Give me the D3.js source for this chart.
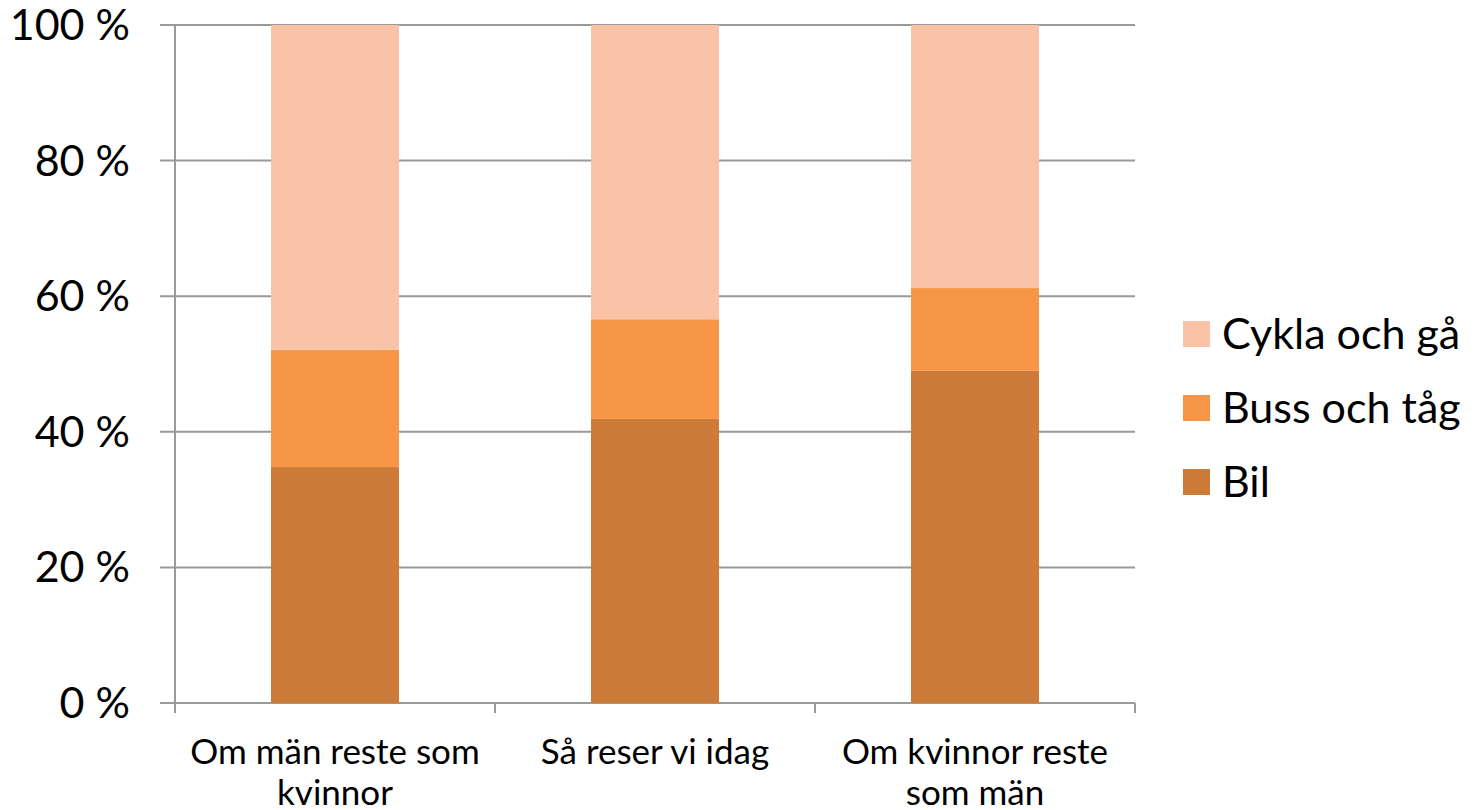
<!DOCTYPE html>
<html>
<head>
<meta charset="utf-8">
<script src="https://cdn.jsdelivr.net/npm/d3@7"></script>
<style>
  body { margin: 0; background: #fff; }
  text { font-family: Lato, "Open Sans", sans-serif; fill: #000; }
</style>
</head>
<body>
<svg id="chart" width="1478" height="810"></svg>
<script>
// data (percent of trips)
var categories = ["Om män reste som kvinnor", "Så reser vi idag", "Om kvinnor reste som män"];
var labelLines = [["Om män reste som", "kvinnor"], ["Så reser vi idag"], ["Om kvinnor reste", "som män"]];
var seriesNames = ["Bil", "Buss och tåg", "Cykla och gå"];
var bil = [34.8, 41.9, 49.0];
var bussOchTag = [17.3, 14.7, 12.2];
var cyklaOchGa = [47.9, 43.4, 38.8];
var yTicks = [0, 20, 40, 60, 80, 100];

var colors = ["#cd7b38", "#f79646", "#fac3a8"];

var rows = categories.map(function(c, i) {
  return { cat: c, "Bil": bil[i], "Buss och tåg": bussOchTag[i], "Cykla och gå": cyklaOchGa[i] };
});

var margin = { left: 175, right: 343, top: 25, bottom: 107 },
    width = 1478,
    height = 810;

var svg = d3.select("#chart");

var x = d3.scaleBand()
    .domain(categories)
    .range([margin.left, width - margin.right])
    .paddingInner(0.6)
    .paddingOuter(0.3);

var y = d3.scaleLinear()
    .domain([0, 100])
    .range([height - margin.bottom, margin.top]);

// gridlines + left ticks
svg.append("g")
  .selectAll("line")
  .data(yTicks)
  .join("line")
    .attr("x1", margin.left - 15)
    .attr("x2", width - margin.right)
    .attr("y1", function(d) { return y(d); })
    .attr("y2", function(d) { return y(d); })
    .attr("stroke", "#9a9a9a")
    .attr("stroke-width", 2);

var stack = d3.stack().keys(seriesNames);
var layers = stack(rows);

svg.append("g")
  .selectAll("g")
  .data(layers)
  .join("g")
    .attr("fill", function(d, i) { return colors[i]; })
  .selectAll("rect")
  .data(function(d) { return d; })
  .join("rect")
    .attr("x", function(d) { return x(d.data.cat); })
    .attr("width", x.bandwidth())
    .attr("y", function(d) { return y(d[1]); })
    .attr("height", function(d) { return y(d[0]) - y(d[1]); });

// left axis line
svg.append("line")
    .attr("x1", margin.left).attr("x2", margin.left)
    .attr("y1", y(100)).attr("y2", y(0) + 10)
    .attr("stroke", "#9a9a9a").attr("stroke-width", 2);

// bottom category boundary ticks
var bounds = d3.range(categories.length + 1).map(function(i) { return margin.left + i * (width - margin.right - margin.left) / categories.length; });
svg.append("g")
  .selectAll("line")
  .data(bounds)
  .join("line")
    .attr("x1", function(d) { return d; })
    .attr("x2", function(d) { return d; })
    .attr("y1", y(0))
    .attr("y2", y(0) + 10)
    .attr("stroke", "#9a9a9a")
    .attr("stroke-width", 2);

// y labels
svg.append("g")
  .selectAll("text")
  .data(yTicks)
  .join("text")
    .attr("x", 130)
    .attr("y", function(d) { return y(d); })
    .attr("dy", "0.35em")
    .attr("text-anchor", "end")
    .style("font-size", "43px")
    .text(function(d) { return d + " %"; });

// category labels
svg.append("g")
  .selectAll("text")
  .data(categories)
  .join("text")
    .attr("text-anchor", "middle")
    .style("font-size", "35px")
    .attr("transform", function(d) { return "translate(" + (x(d) + x.bandwidth() / 2) + ",764)"; })
  .selectAll("tspan")
  .data(function(d, i) { return labelLines[i]; })
  .join("tspan")
    .attr("x", 0)
    .attr("dy", function(d, i) { return i === 0 ? 0 : 41; })
    .text(function(d) { return d; });

// legend (top to bottom: Cykla, Buss, Bil)
var legendOrder = seriesNames.slice().reverse();
var legend = svg.append("g")
  .selectAll("g")
  .data(legendOrder)
  .join("g")
    .attr("transform", function(d, i) { return "translate(1183," + (321 + i * 74) + ")"; });

legend.append("rect")
    .attr("width", 27)
    .attr("height", 26)
    .attr("fill", function(d) { return colors[seriesNames.indexOf(d)]; });

legend.append("text")
    .attr("x", 39)
    .attr("y", 13)
    .attr("dy", "0.35em")
    .style("font-size", "43px")
    .text(function(d) { return d; });
</script>
</body>
</html>
